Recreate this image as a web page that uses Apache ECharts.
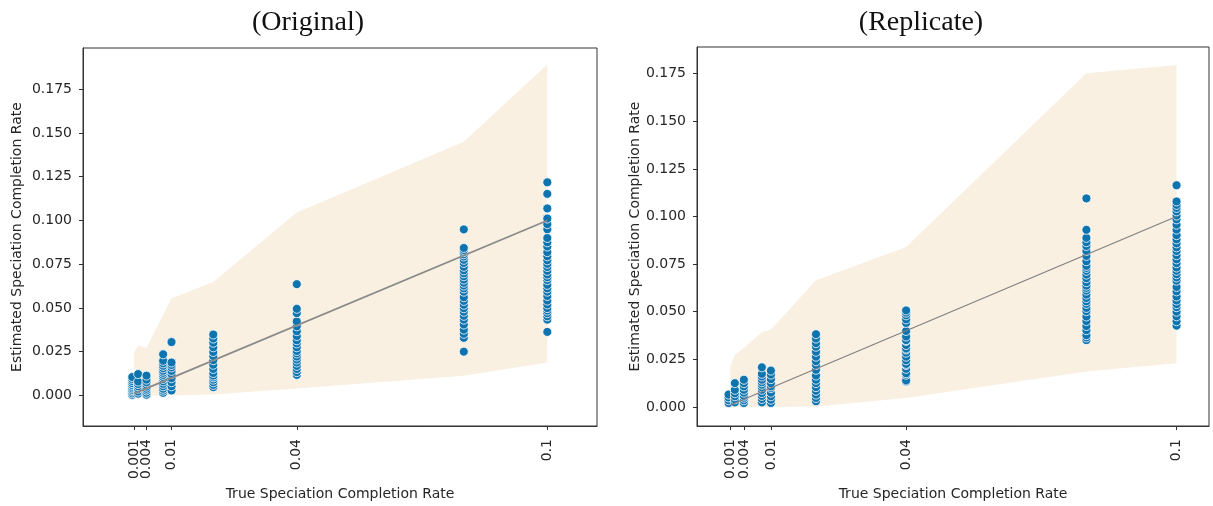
<!DOCTYPE html>
<html>
<head>
<meta charset="utf-8">
<script src="https://cdn.jsdelivr.net/npm/echarts@6/dist/echarts.min.js"></script>
<style>
  html, body { margin: 0; padding: 0; background: #fff; }
  #chart { width: 1213px; height: 506px; }
</style>
</head>
<body>
<div id="chart"></div>
<script>
// ---------- tick labels ----------
const xTickValues = [0.001, 0.004, 0.01, 0.04, 0.1];
const xTickLabels = ['0.001', '0.004', '0.01', '0.04', '0.1'];
const yTickValues = [0, 0.025, 0.05, 0.075, 0.1, 0.125, 0.15, 0.175];
const yTickLabels = ['0.000', '0.025', '0.050', '0.075', '0.100', '0.125', '0.150', '0.175'];

// ---------- true rates (columns of points) ----------
const columnX = [0.0006, 0.002, 0.004, 0.008, 0.01, 0.02, 0.04, 0.08, 0.1];

// ---------- (Original) estimated rates per column ----------
const orig_0006 = [0.0003, 0.0012, 0.0022, 0.0031, 0.004, 0.005, 0.006, 0.007, 0.0082, 0.0094, 0.0105];
const orig_002  = [0.001, 0.0022, 0.0038, 0.0052, 0.0065, 0.0079, 0.0122];
const orig_004  = [0.0004, 0.0015, 0.0028, 0.0038, 0.005, 0.0062, 0.0075, 0.009, 0.0113];
const orig_008  = [0.0015, 0.0027, 0.0038, 0.0052, 0.0066, 0.008, 0.0094, 0.0105, 0.0117, 0.0129, 0.0141, 0.0155, 0.0169, 0.0183, 0.0198, 0.0235];
const orig_01   = [0.0028, 0.0052, 0.0075, 0.0098, 0.0122, 0.014, 0.016, 0.0174, 0.0188, 0.0305];
const orig_02   = [0.0047, 0.006, 0.0075, 0.009, 0.0103, 0.0113, 0.0128, 0.0151, 0.0175, 0.0201, 0.0225, 0.0248, 0.0275, 0.0301, 0.0325, 0.0348];
const orig_04   = [0.0117, 0.0133, 0.0151, 0.0169, 0.0188, 0.0205, 0.0222, 0.024, 0.0254, 0.0275, 0.0297, 0.0315, 0.0339, 0.0367, 0.0395, 0.0423, 0.047, 0.0495, 0.0636];
const orig_08   = [0.025, 0.0329, 0.0352, 0.0376, 0.0405, 0.0433, 0.0455, 0.0478, 0.0498, 0.0518, 0.054, 0.0561, 0.0593, 0.0612, 0.0628, 0.0644, 0.0662, 0.0681, 0.0698, 0.0715, 0.0735, 0.0757, 0.0775, 0.0794, 0.0807, 0.0819, 0.0831, 0.0843, 0.0949];
const orig_1    = [0.0363, 0.0433, 0.0452, 0.047, 0.0485, 0.0499, 0.052, 0.0542, 0.0568, 0.0593, 0.0612, 0.0632, 0.0659, 0.0675, 0.0691, 0.0712, 0.0734, 0.0752, 0.0772, 0.0795, 0.0819, 0.0851, 0.0875, 0.09, 0.095, 0.0979, 0.1011, 0.1069, 0.1152, 0.1218];

// ---------- (Replicate) estimated rates per column ----------
const rep_0006 = [0.0021, 0.0035, 0.005, 0.0065];
const rep_002  = [0.0024, 0.004, 0.0056, 0.0072, 0.009, 0.0125];
const rep_004  = [0.0021, 0.0035, 0.0048, 0.0059, 0.0075, 0.009, 0.0108, 0.0125, 0.0143];
const rep_008  = [0.0024, 0.0042, 0.0058, 0.0073, 0.009, 0.0104, 0.0117, 0.013, 0.0143, 0.016, 0.0174, 0.0208];
const rep_01   = [0.0021, 0.0038, 0.0056, 0.0075, 0.0099, 0.0108, 0.0125, 0.0146, 0.017, 0.0191];
const rep_02   = [0.003, 0.0047, 0.0065, 0.0085, 0.0104, 0.0125, 0.0143, 0.0165, 0.0195, 0.022, 0.024, 0.0264, 0.029, 0.0316, 0.0335, 0.0359, 0.0382];
const rep_04   = [0.0134, 0.0139, 0.0169, 0.0177, 0.02, 0.022, 0.0226, 0.0245, 0.0264, 0.0285, 0.0302, 0.0307, 0.0325, 0.0347, 0.0351, 0.037, 0.0399, 0.0441, 0.046, 0.0481, 0.0495, 0.0507];
const rep_08   = [0.0351, 0.0365, 0.0377, 0.0403, 0.0425, 0.0451, 0.0475, 0.0503, 0.052, 0.0541, 0.0555, 0.0572, 0.059, 0.0611, 0.0625, 0.0637, 0.0655, 0.0676, 0.0695, 0.0715, 0.073, 0.0741, 0.0765, 0.0793, 0.0819, 0.0845, 0.0865, 0.0888, 0.093, 0.1095];
const rep_1    = [0.0427, 0.045, 0.0476, 0.05, 0.0524, 0.054, 0.0559, 0.058, 0.0607, 0.063, 0.0663, 0.068, 0.0697, 0.0715, 0.0732, 0.0755, 0.0775, 0.0797, 0.0819, 0.0838, 0.0859, 0.088, 0.0902, 0.0931, 0.0957, 0.0985, 0.1005, 0.1027, 0.1045, 0.1061, 0.1079, 0.1164];

// ---------- shaded band ----------
const bandX = [0.001, 0.002, 0.004, 0.008, 0.01, 0.02, 0.04, 0.08, 0.1];
const origUpper = [0.0245, 0.0286, 0.0273, 0.046, 0.0555, 0.0649, 0.1045, 0.145, 0.1892];
const origLower = [0, 0, 0, 0, 0, 0.0005, 0.004, 0.0113, 0.0188];
const repUpper  = [0.0212, 0.0273, 0.031, 0.0394, 0.0406, 0.0666, 0.084, 0.1752, 0.1795];
const repLower  = [0, 0, 0, 0, 0, 0.0003, 0.0047, 0.0186, 0.0229];

// ---------- identity line ----------
const trendX = [0.001, 0.1];
const trendY = [0.001, 0.1];

// ---------- build ----------
function pairs(cols) {
  const out = [];
  cols.forEach((vals, i) => vals.forEach(v => out.push([columnX[i], v])));
  return out;
}
const origPoints = pairs([orig_0006, orig_002, orig_004, orig_008, orig_01, orig_02, orig_04, orig_08, orig_1]);
const repPoints  = pairs([rep_0006, rep_002, rep_004, rep_008, rep_01, rep_02, rep_04, rep_08, rep_1]);
const trendData = trendX.map((x, i) => [x, trendY[i]]);

// ticks split over two stacked bottom axes so that the close 0.001 / 0.004 ticks both survive
const xTicksMain  = xTickValues.filter((v, i) => i % 2 === 0 || i > 1);   // 0.001, 0.01, 0.04, 0.1
const xTicksExtra = xTickValues.filter((v, i) => i === 1);               // 0.004

const FONT = 'DejaVu Sans';
const TXT = '#262626';
const EDGE = '#333333';
const PT = '#0f73ae';

function fmtX(v) { const k = xTickValues.findIndex(t => Math.abs(t - v) < 1e-9); return k >= 0 ? xTickLabels[k] : ''; }
function fmtY(v) { const k = yTickValues.findIndex(t => Math.abs(t - v) < 1e-9); return k >= 0 ? yTickLabels[k] : ''; }

function bandSeries(idx, upper, lower) {
  return {
    type: 'custom',
    xAxisIndex: idx, yAxisIndex: idx,
    z: 1, silent: true,
    data: [[0, 0]],
    renderItem: function (params, api) {
      const pts = [];
      for (let i = 0; i < bandX.length; i++) pts.push(api.coord([bandX[i], upper[i]]));
      for (let i = bandX.length - 1; i >= 0; i--) pts.push(api.coord([bandX[i], lower[i]]));
      return { type: 'polygon', shape: { points: pts }, style: { fill: '#faf0e2', stroke: null } };
    }
  };
}

function xAxis(gridIdx, min, max, ticks, withName) {
  return {
    type: 'value', gridIndex: gridIdx, min: min, max: max, position: 'bottom', offset: 0,
    name: withName ? 'True Speciation Completion Rate' : '', nameLocation: 'middle', nameGap: 56,
    nameTextStyle: { fontFamily: FONT, fontSize: 14, color: TXT },
    axisLine: { show: withName, onZero: false, lineStyle: { color: EDGE, width: 1 } },
    axisTick: { show: true, customValues: ticks, length: 4, lineStyle: { color: EDGE } },
    axisLabel: {
      show: true, customValues: ticks, rotate: 90, margin: 13, hideOverlap: false,
      showMinLabel: true, showMaxLabel: true,
      fontFamily: FONT, fontSize: 14, color: TXT, formatter: fmtX
    },
    splitLine: { show: false }
  };
}
function yAxis(idx, min, max, nameGap) {
  return {
    type: 'value', gridIndex: idx, min: min, max: max,
    name: 'Estimated Speciation Completion Rate', nameLocation: 'middle', nameGap: nameGap, nameRotate: 90,
    nameTextStyle: { fontFamily: FONT, fontSize: 14, color: TXT },
    axisLine: { show: true, onZero: false, lineStyle: { color: EDGE, width: 1 } },
    axisTick: { show: true, customValues: yTickValues, length: 4, lineStyle: { color: EDGE } },
    axisLabel: {
      show: true, customValues: yTickValues, margin: 11, hideOverlap: false,
      showMinLabel: true, showMaxLabel: true,
      fontFamily: FONT, fontSize: 14, color: TXT, formatter: fmtY
    },
    splitLine: { show: false }
  };
}

const chart = echarts.init(document.getElementById('chart'), null, { renderer: 'canvas' });
chart.setOption({
  animation: false,
  backgroundColor: '#ffffff',
  title: [
    { text: '(Original)', left: 303, top: 4, textAlign: 'center',
      textStyle: { fontFamily: 'Liberation Serif', fontSize: 28, fontWeight: 'normal', color: '#111' } },
    { text: '(Replicate)', left: 916, top: 4, textAlign: 'center',
      textStyle: { fontFamily: 'Liberation Serif', fontSize: 28, fontWeight: 'normal', color: '#111' } }
  ],
  grid: [
    { left: 83, top: 48, width: 514, height: 383, show: true, borderColor: EDGE, borderWidth: 1, backgroundColor: 'transparent' },
    { left: 697, top: 47, width: 512, height: 383, show: true, borderColor: EDGE, borderWidth: 1, backgroundColor: 'transparent' }
  ],
  xAxis: [
    xAxis(0, -0.0112, 0.1119, xTicksMain, true),
    xAxis(1, -0.0064, 0.1072, xTicksMain, true),
    xAxis(0, -0.0112, 0.1119, xTicksExtra, false),
    xAxis(1, -0.0064, 0.1072, xTicksExtra, false)
  ],
  yAxis: [
    yAxis(0, -0.0175, 0.1986, 59),
    yAxis(1, -0.01, 0.189, 52)
  ],
  series: [
    bandSeries(0, origUpper, origLower),
    bandSeries(1, repUpper, repLower),
    { type: 'scatter', xAxisIndex: 0, yAxisIndex: 0, z: 3, data: origPoints, symbolSize: 9,
      itemStyle: { color: PT, borderColor: '#ffffff', borderWidth: 0.8, opacity: 1 } },
    { type: 'scatter', xAxisIndex: 1, yAxisIndex: 1, z: 3, data: repPoints, symbolSize: 9,
      itemStyle: { color: PT, borderColor: '#ffffff', borderWidth: 0.8, opacity: 1 } },
    { type: 'line', xAxisIndex: 0, yAxisIndex: 0, z: 4, data: trendData, showSymbol: false,
      lineStyle: { color: '#8a8a8a', width: 1.8 } },
    { type: 'line', xAxisIndex: 1, yAxisIndex: 1, z: 4, data: trendData, showSymbol: false,
      lineStyle: { color: '#808080', width: 1.2 } }
  ]
});
</script>
</body>
</html>
